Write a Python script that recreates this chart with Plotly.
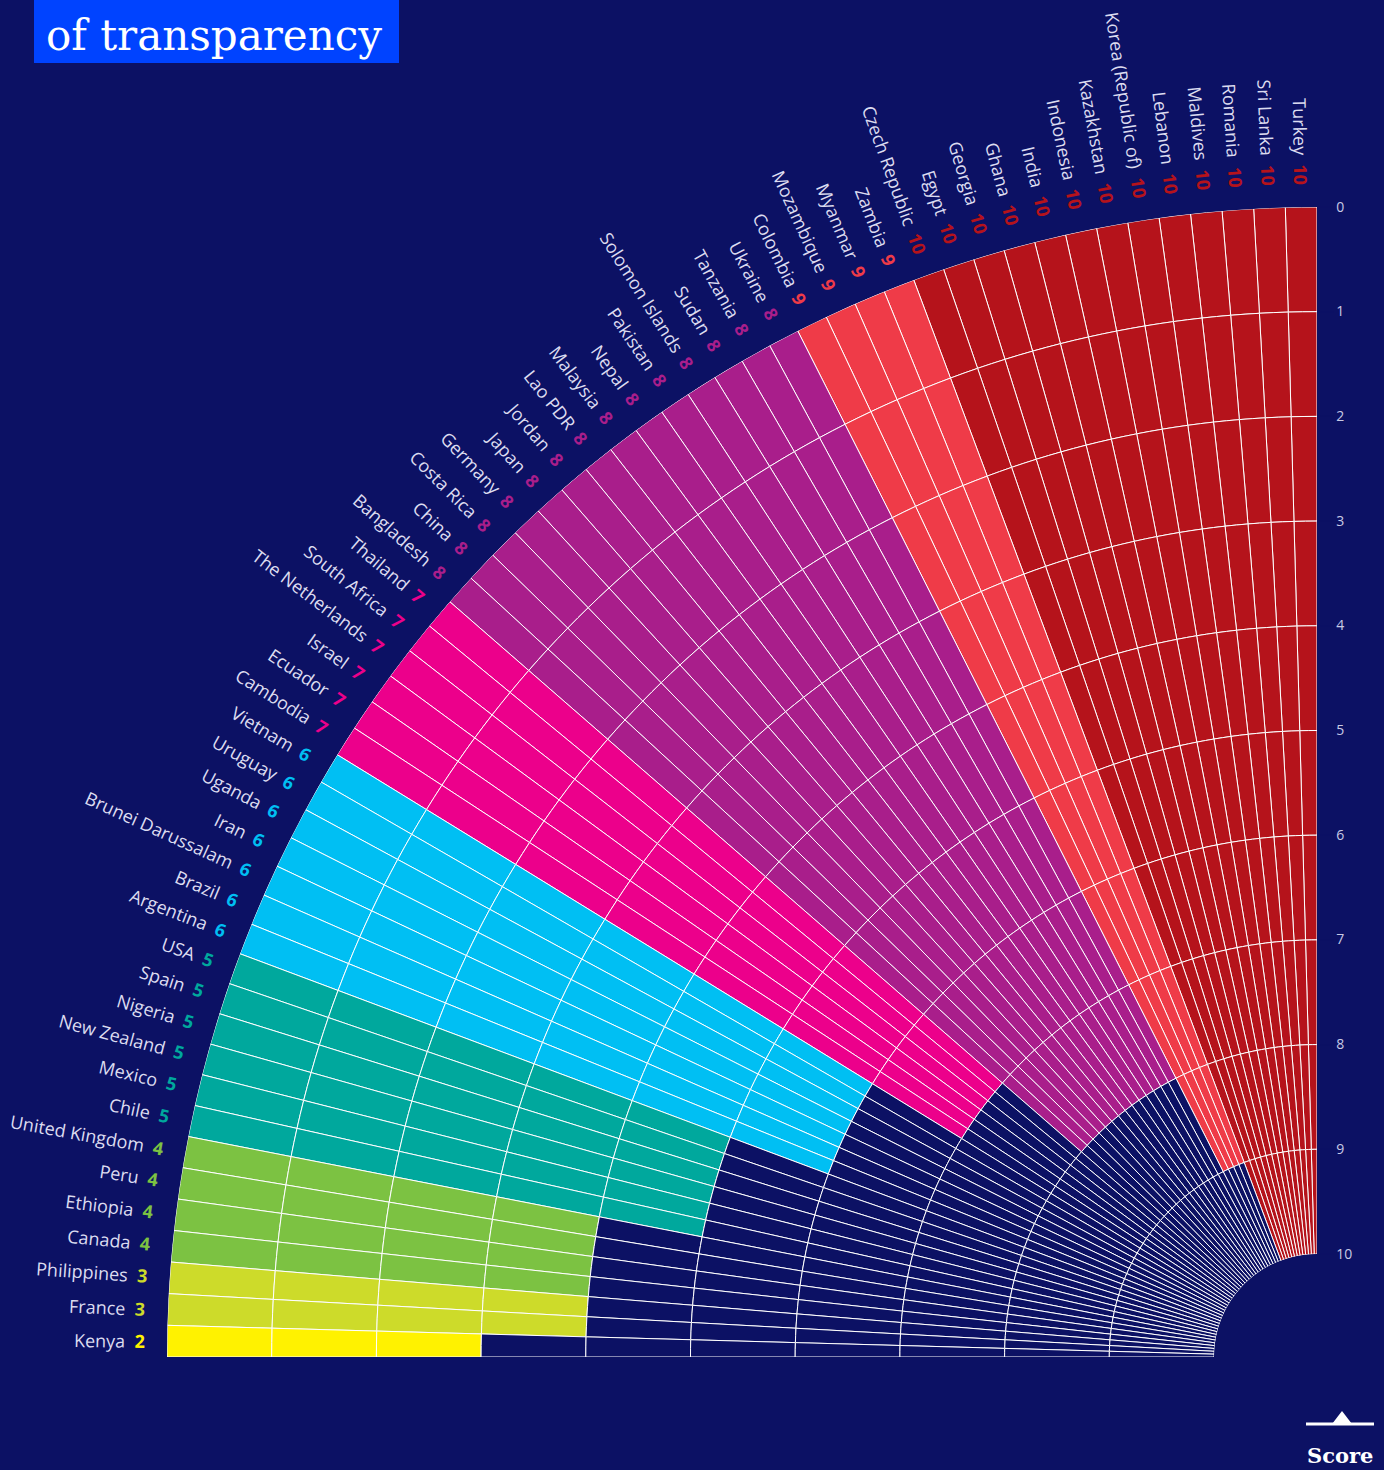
import math
import plotly.graph_objects as go

# ---------------- data ----------------
countries = [
    "Turkey", "Sri Lanka", "Romania", "Maldives", "Lebanon", "Korea (Republic of)",
    "Kazakhstan", "Indonesia", "India", "Ghana", "Georgia", "Egypt", "Czech Republic",
    "Zambia", "Myanmar", "Mozambique", "Colombia",
    "Ukraine", "Tanzania", "Sudan", "Solomon Islands", "Pakistan", "Nepal", "Malaysia",
    "Lao PDR", "Jordan", "Japan", "Germany", "Costa Rica", "China", "Bangladesh",
    "Thailand", "South Africa", "The Netherlands", "Israel", "Ecuador", "Cambodia",
    "Vietnam", "Uruguay", "Uganda", "Iran", "Brunei Darussalam", "Brazil", "Argentina",
    "USA", "Spain", "Nigeria", "New Zealand", "Mexico", "Chile",
    "United Kingdom", "Peru", "Ethiopia", "Canada",
    "Philippines", "France", "Kenya",
]
scores = [
    10, 10, 10, 10, 10, 10, 10, 10, 10, 10, 10, 10, 10,
    9, 9, 9, 9,
    8, 8, 8, 8, 8, 8, 8, 8, 8, 8, 8, 8, 8, 8,
    7, 7, 7, 7, 7, 7,
    6, 6, 6, 6, 6, 6, 6,
    5, 5, 5, 5, 5, 5,
    4, 4, 4, 4,
    3, 3,
    2,
]
# number of coloured cells drawn in each bar (as seen in the picture)
filled_cells = [
    10, 10, 10, 10, 10, 10, 10, 10, 10, 10, 10, 10, 10,
    9, 9, 9, 9,
    8, 8, 8, 8, 8, 8, 8, 8, 8, 8, 8, 8, 8, 8,
    7, 7, 7, 7, 7, 7,
    6, 6, 6, 6, 6, 6, 6,
    5, 5, 5, 5, 5, 5,
    4, 4, 4, 4,
    4, 4,
    3,
]
score_ticks = [0, 1, 2, 3, 4, 5, 6, 7, 8, 9, 10]
score_colors = {
    10: "#b5131b", 9: "#ef3b48", 8: "#a91e8b", 7: "#ec008b", 6: "#00bff3",
    5: "#00a89d", 4: "#7cc242", 3: "#cddb2a", 2: "#fff200",
}
title_text = "of transparency"
legend_text = "Score"

# ---------------- styling / geometry ----------------
BG = "#0c1164"
LABEL_COLOR = "#dcdcf0"
W, H = 1384, 1470
CX, CY, R = 1317, 1357, 1150        # polar centre and outer radius (px)
ML, MT = CX - R, CY - R
MR, MB = W - CX, H - CY
N_CELLS = len(score_ticks) - 1


def px_x(px):
    return (px - ML) / R


def px_y(py):
    return (CY - py) / R


n = len(countries)
step = 90.0 / n
thetas = [90 + (i + 0.5) * step for i in range(n)]

fig = go.Figure()
for k in range(N_CELLS):
    cols = [score_colors[s] if k < f else BG for s, f in zip(scores, filled_cells)]
    fig.add_trace(go.Barpolar(
        r=[1] * n, theta=thetas, width=[step] * n,
        marker=dict(color=cols, line=dict(color="white", width=1)),
        hoverinfo="skip", showlegend=False,
    ))

# country labels, rotated along the radius and ending just outside the arc
label_font = dict(family="Open Sans, Noto Sans, sans-serif", size=18, color=LABEL_COLOR)
rho = 1 + 20 / R
for name, s, th in zip(countries, scores, thetas):
    c = score_colors[s]
    vis = f"{name}\u00a0\u00a0<b><span style='color:{c}'>{s}</span></b>"
    ghost = f"<span style='color:rgba(0,0,0,0)'>{name}\u00a0\u00a0<b>{s}</b></span>"
    a = math.radians(th)
    fig.add_annotation(
        x=1 + rho * math.cos(a), y=rho * math.sin(a), xref="paper", yref="paper",
        text=vis + "\u00a0" + ghost, textangle=180 - th, showarrow=False,
        xanchor="center", yanchor="middle", font=label_font,
    )

# title box
fig.add_shape(type="rect", xref="paper", yref="paper",
              x0=px_x(34), x1=px_x(399), y0=px_y(63), y1=px_y(-2),
              fillcolor="#0043ff", line=dict(width=0), layer="above")
fig.add_annotation(x=px_x(214), y=px_y(35), xref="paper", yref="paper",
                   text=title_text, showarrow=False, xanchor="center", yanchor="middle",
                   font=dict(family="DejaVu Serif, serif", size=42, color="white"))

# score legend (bottom right)
fig.add_shape(type="line", xref="paper", yref="paper",
              x0=px_x(1306), x1=px_x(1374), y0=px_y(1424), y1=px_y(1424),
              line=dict(color="white", width=3))
fig.add_shape(type="path", xref="paper", yref="paper",
              path=(f"M {px_x(1332)} {px_y(1424)} L {px_x(1342)} {px_y(1411)} "
                    f"L {px_x(1352)} {px_y(1424)} Z"),
              fillcolor="white", line=dict(width=0))
fig.add_annotation(x=px_x(1340), y=px_y(1455), xref="paper", yref="paper",
                   text=f"<b>{legend_text}</b>", showarrow=False,
                   xanchor="center", yanchor="middle",
                   font=dict(family="DejaVu Serif, serif", size=21, color="white"))

fig.update_layout(
    width=W, height=H,
    margin=dict(l=ML, r=MR, t=MT, b=MB, pad=0),
    paper_bgcolor=BG, plot_bgcolor=BG,
    showlegend=False,
    polar=dict(
        domain=dict(x=[0, 1], y=[0, 1]),
        sector=[90, 180],
        hole=103 / R,
        bgcolor=BG,
        barmode="stack",
        radialaxis=dict(
            range=[score_ticks[-1], score_ticks[0]], angle=90, side="clockwise",
            tickmode="array", tickvals=score_ticks, tickangle=90,
            ticks="outside", ticklen=16, tickcolor=BG,
            showgrid=False, showline=False,
            tickfont=dict(family="Open Sans, sans-serif", size=14, color="#c8cae4"),
        ),
        angularaxis=dict(
            visible=False, rotation=0, direction="counterclockwise",
            thetaunit="degrees", showgrid=False, showticklabels=False,
        ),
    ),
)

fig.write_html(
    "out.html",
    config={"displayModeBar": False},
    post_script=("document.body.style.margin='0';"
                 f"document.body.style.background='{BG}';"),
)
